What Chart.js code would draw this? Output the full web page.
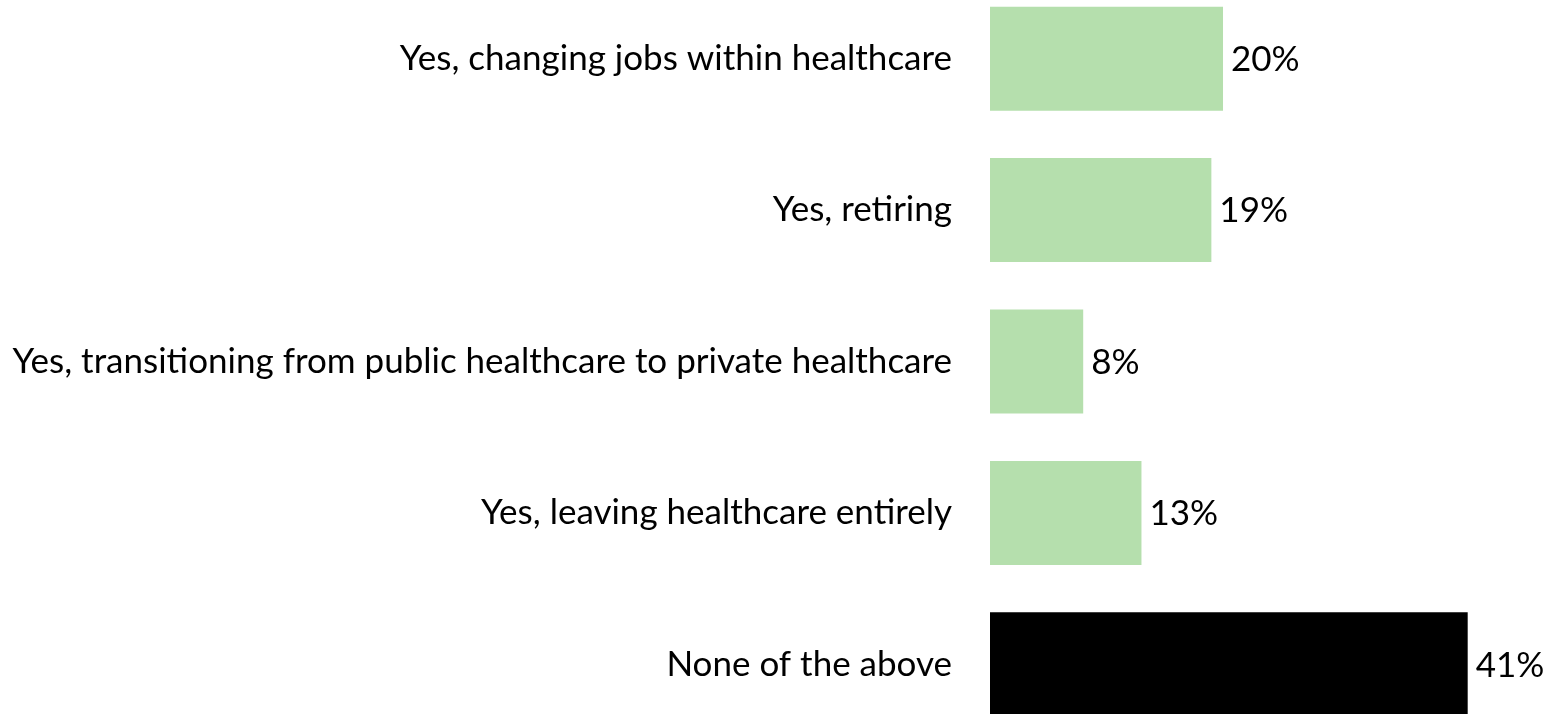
<!DOCTYPE html>
<html>
<head>
<meta charset="utf-8">
<script src="https://cdn.jsdelivr.net/npm/chart.js@4"></script>
<style>
  html, body { margin: 0; padding: 0; background: #fff; overflow: hidden; }
  #plans { position: absolute; left: 0; top: -17px; }
</style>
</head>
<body>
<canvas id="plans" width="1551" height="757"></canvas>
<script>
const categories = [
  "Yes, changing jobs within healthcare",
  "Yes, retiring",
  "Yes, transitioning from public healthcare to private healthcare",
  "Yes, leaving healthcare entirely",
  "None of the above",
];
const shares = [20, 19, 8, 13, 41];
const barColors = ["#b5dfad", "#b5dfad", "#b5dfad", "#b5dfad", "#000000"];

const labelFont = { family: "Lato, 'Open Sans', sans-serif", size: 35 };

// writes the percentage just past the end of each bar
const valueLabels = {
  id: "valueLabels",
  afterDatasetsDraw(chart) {
    const ctx = chart.ctx;
    const meta = chart.getDatasetMeta(0);
    ctx.save();
    ctx.font = labelFont.size + "px " + labelFont.family;
    ctx.fillStyle = "#000";
    ctx.textAlign = "left";
    ctx.textBaseline = "middle";
    meta.data.forEach((bar, i) => {
      ctx.fillText(shares[i] + "%", bar.x + 8, bar.y + 1);
    });
    ctx.restore();
  },
};

new Chart(document.getElementById("plans").getContext("2d"), {
  type: "bar",
  data: {
    labels: categories,
    datasets: [
      {
        data: shares,
        backgroundColor: barColors,
        borderWidth: 0,
        barPercentage: 0.687,
        categoryPercentage: 1,
      },
    ],
  },
  options: {
    indexAxis: "y",
    responsive: false,
    animation: false,
    layout: { padding: 0, autoPadding: false },
    plugins: {
      legend: { display: false },
      tooltip: { enabled: false },
    },
    scales: {
      x: {
        min: 0,
        max: 48.15,
        display: false,
      },
      y: {
        grid: { display: false, drawTicks: false },
        border: { display: false },
        afterFit(scale) {
          // fixed label column; bands run the full canvas height
          scale.width = 990;
          scale.paddingTop = 0;
          scale.paddingBottom = 0;
        },
        ticks: {
          color: "#000",
          font: labelFont,
          padding: 38,
        },
      },
    },
  },
  plugins: [valueLabels],
});
</script>
</body>
</html>
